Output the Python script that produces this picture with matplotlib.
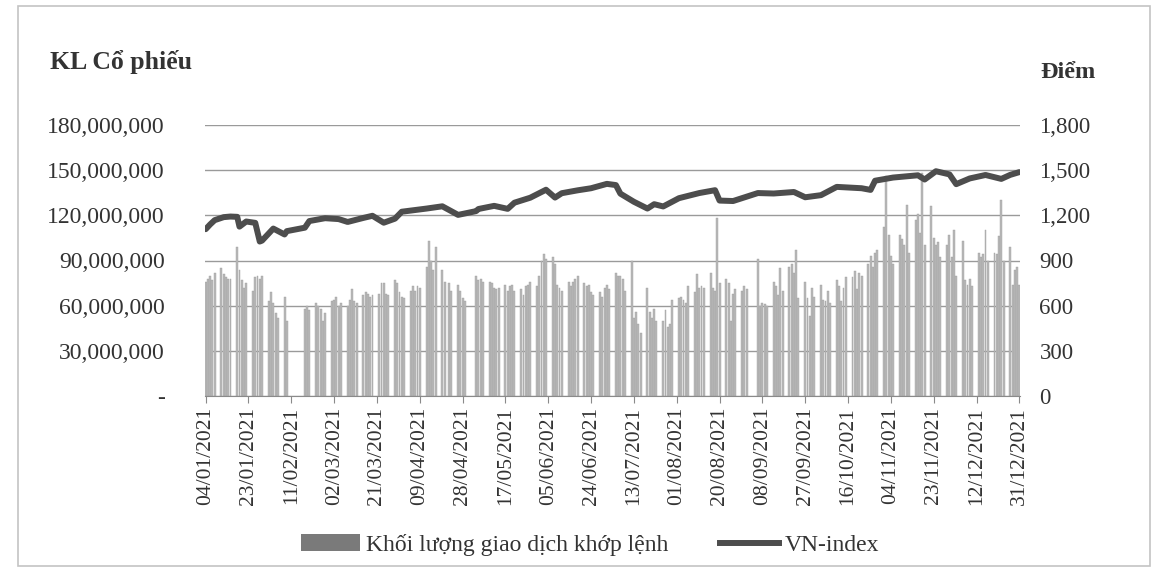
import matplotlib
matplotlib.use("Agg")
import matplotlib.pyplot as plt
import matplotlib.dates as mdates
from matplotlib.ticker import FuncFormatter
from matplotlib.patches import Rectangle
from matplotlib.lines import Line2D
import pandas as pd
import numpy as np

# ---------------- data ----------------
holidays = ["2021-02-10", "2021-02-11", "2021-02-12", "2021-02-15", "2021-02-16",
            "2021-04-21", "2021-04-30", "2021-05-03", "2021-09-02", "2021-09-03"]

# daily matched volume (millions of shares), by week
volume_mn = [
    76, 78, 80, 77, 82,   85, 81, 79, 78, 78,   99, 84, 77, 72, 75,   70, 79, 80, 78, 80,
    63, 69, 62, 55, 52,   66, 50,   58, 60, 57,   62, 60, 58, 50, 55,
    63, 64, 66, 60, 62,   60, 64, 71, 63, 62,   67, 69, 68, 66, 67,   68, 75, 75, 68, 67,
    77, 75, 69, 66, 65,
    70, 73, 70, 73, 72,   86, 103, 90, 84, 99,   84, 76, 75, 70,   74, 70, 65, 63,
    80, 77, 78, 76,   76, 75, 72, 71, 72,   74, 70, 73, 74, 70,   71, 67, 73, 74, 76,
    73, 80, 90, 94, 91,   92, 88, 74, 72, 70,   76, 73, 76, 78, 80,   75, 73, 74, 69, 67,
    69, 66, 72, 74, 71,
    82, 80, 80, 78, 70,   90, 52, 56, 48, 42,   72, 56, 52, 58, 50,   50, 57, 46, 48, 64,
    65, 66, 64, 62, 73,   69, 81, 72, 73, 72,   82, 72, 70, 118, 75,   78, 75, 50, 68, 71,
    70, 73, 71,   91, 60, 62, 61, 60,   76, 73, 67, 85, 70,   86, 88, 82, 97, 65,
    76, 65, 53, 72, 66,
    74, 64, 63, 70, 62,   77, 73, 63, 72, 79,   79, 83, 71, 82, 80,   88, 93, 86, 95, 97,
    112, 146, 107, 93, 88,   107, 104, 100, 127, 95,   117, 121, 108, 148, 100,
    126, 105, 100, 102, 92,   100, 107, 92, 110, 80,
    103, 77, 74, 78, 73,   95, 92, 94, 110, 90,   95, 94, 106, 130, 90,   99, 74, 84, 86, 74,
]

index_dates = ["2021-01-04", "2021-01-06", "2021-01-08", "2021-01-12", "2021-01-15", "2021-01-18",
               "2021-01-19", "2021-01-22", "2021-01-26", "2021-01-28", "2021-01-29", "2021-02-03",
               "2021-02-08", "2021-02-09", "2021-02-17", "2021-02-19", "2021-02-26", "2021-03-04",
               "2021-03-08", "2021-03-15", "2021-03-19", "2021-03-24", "2021-03-29", "2021-04-01",
               "2021-04-12", "2021-04-19", "2021-04-26", "2021-05-04", "2021-05-05", "2021-05-12",
               "2021-05-18", "2021-05-21", "2021-05-28", "2021-06-04", "2021-06-08", "2021-06-11",
               "2021-06-18", "2021-06-24", "2021-07-01", "2021-07-05", "2021-07-07", "2021-07-13",
               "2021-07-19", "2021-07-22", "2021-07-26", "2021-08-02", "2021-08-11", "2021-08-18",
               "2021-08-20", "2021-08-26", "2021-09-06", "2021-09-13", "2021-09-22", "2021-09-27",
               "2021-10-04", "2021-10-11", "2021-10-22", "2021-10-26", "2021-10-28", "2021-11-05",
               "2021-11-16", "2021-11-19", "2021-11-24", "2021-11-30", "2021-12-03", "2021-12-09",
               "2021-12-16", "2021-12-23", "2021-12-27", "2021-12-31"]
index_values = [1108, 1140, 1168, 1188, 1192, 1190,
                1125, 1159, 1150, 1026, 1032, 1112,
                1073, 1095, 1118, 1162, 1181, 1175,
                1156, 1183, 1197, 1151, 1178, 1224,
                1245, 1260, 1203, 1228, 1242, 1263,
                1243, 1284, 1317, 1370, 1318, 1347,
                1366, 1380, 1409, 1401, 1344, 1290,
                1245, 1274, 1259, 1314, 1348, 1367,
                1298, 1295, 1348, 1345, 1355, 1320,
                1334, 1389, 1380, 1369, 1430, 1451,
                1466, 1438, 1493, 1472, 1407, 1445,
                1468, 1442, 1469, 1487]

tick_start = "2021-01-04"
tick_step_days = 19
y_left_ticks = [0, 30e6, 60e6, 90e6, 120e6, 150e6, 180e6]
y_right_ticks = [0, 300, 600, 900, 1200, 1500, 1800]

legend_bar = "Khối lượng giao dịch khớp lệnh"
legend_line = "VN-index"
left_title = "KL Cổ phiếu"
right_title = "Điểm"

# ---------------- build ----------------
trade_days = pd.bdate_range("2021-01-04", "2021-12-31")
trade_days = trade_days[~trade_days.isin(pd.to_datetime(holidays))]
assert len(trade_days) == len(volume_mn), (len(trade_days), len(volume_mn))
vol = np.array(volume_mn) * 1e6

SERIF = ["Liberation Serif", "DejaVu Serif"]
plt.rcParams["font.family"] = SERIF

W, H = 1162, 572
fig = plt.figure(figsize=(W / 100, H / 100), dpi=100)
ax = fig.add_axes([205 / W, 1 - 396 / H, (1020 - 205) / W, (396 - 125) / H])

xd = mdates.date2num(trade_days.to_pydatetime())
ax.bar(xd, vol, width=0.85, color="#b8b8b8", edgecolor="#a0a0a0", linewidth=0.3, zorder=2)

ax.set_ylim(0, 180e6)
ax.set_yticks(y_left_ticks)
ax.yaxis.set_major_formatter(FuncFormatter(lambda v, p: "-" if v == 0 else f"{int(v):,}"))
ax.grid(axis="y", color="#9a9a9a", linewidth=1.0, zorder=1)
ax.set_axisbelow(True)

x0 = mdates.date2num(pd.Timestamp(tick_start))
x1 = mdates.date2num(pd.Timestamp("2021-12-31"))
ax.set_xlim(x0 - 0.3, x1 + 0.3)
ticks = [x0 + i * tick_step_days for i in range(int((x1 - x0) // tick_step_days) + 1)]
ax.set_xticks(ticks)
ax.xaxis.set_major_formatter(mdates.DateFormatter("%d/%m/%Y"))
for lab in ax.get_xticklabels():
    lab.set_rotation(90)

for s in ["top", "left", "right"]:
    ax.spines[s].set_visible(False)
ax.spines["bottom"].set_color("#8a8a8a")
ax.tick_params(axis="x", direction="out", length=5, color="#8a8a8a", labelsize=15.5, pad=3,
               labelcolor="#333333")
ax.tick_params(axis="y", length=0, labelsize=17, pad=29, labelcolor="#333333")

ax2 = ax.twinx()
ax2.set_ylim(0, 1800)
ax2.set_yticks(y_right_ticks)
ax2.yaxis.set_major_formatter(FuncFormatter(lambda v, p: f"{int(v):,}"))
for s in ["top", "left", "right", "bottom"]:
    ax2.spines[s].set_visible(False)
ax2.tick_params(axis="y", length=0, labelsize=16.5, pad=14, labelcolor="#333333")
idx_x = mdates.date2num(pd.to_datetime(index_dates).to_pydatetime())
ax2.plot(idx_x, index_values, color="#4d4d4d", linewidth=4.3, solid_joinstyle="round",
         solid_capstyle="round", zorder=5)

fig.text(50 / W, 1 - 62 / H, left_title, fontsize=18.5, fontweight="bold", color="#333333",
         ha="left", va="center")
fig.text(1040 / W, 1 - 73 / H, right_title, fontsize=17.5, fontweight="bold", color="#333333",
         ha="left", va="center")

handles = [Rectangle((0, 0), 1, 1, facecolor="#7a7a7a", edgecolor="none"),
           Line2D([0], [0], color="#4d4d4d", linewidth=4.3)]
fig.legend(handles, [legend_bar, legend_line], loc="center", bbox_to_anchor=(590 / W, 1 - 545 / H),
           ncol=2, frameon=False, fontsize=17, handlelength=2.5, handletextpad=0.25,
           columnspacing=2.2, labelcolor="#333333")

fig.patches.append(Rectangle((18 / W, 6 / H), (1150 - 18) / W, (566 - 6) / H,
                             transform=fig.transFigure, fill=False, edgecolor="#c4c4c4",
                             linewidth=1.2))

fig.savefig("out.png", dpi=100)
